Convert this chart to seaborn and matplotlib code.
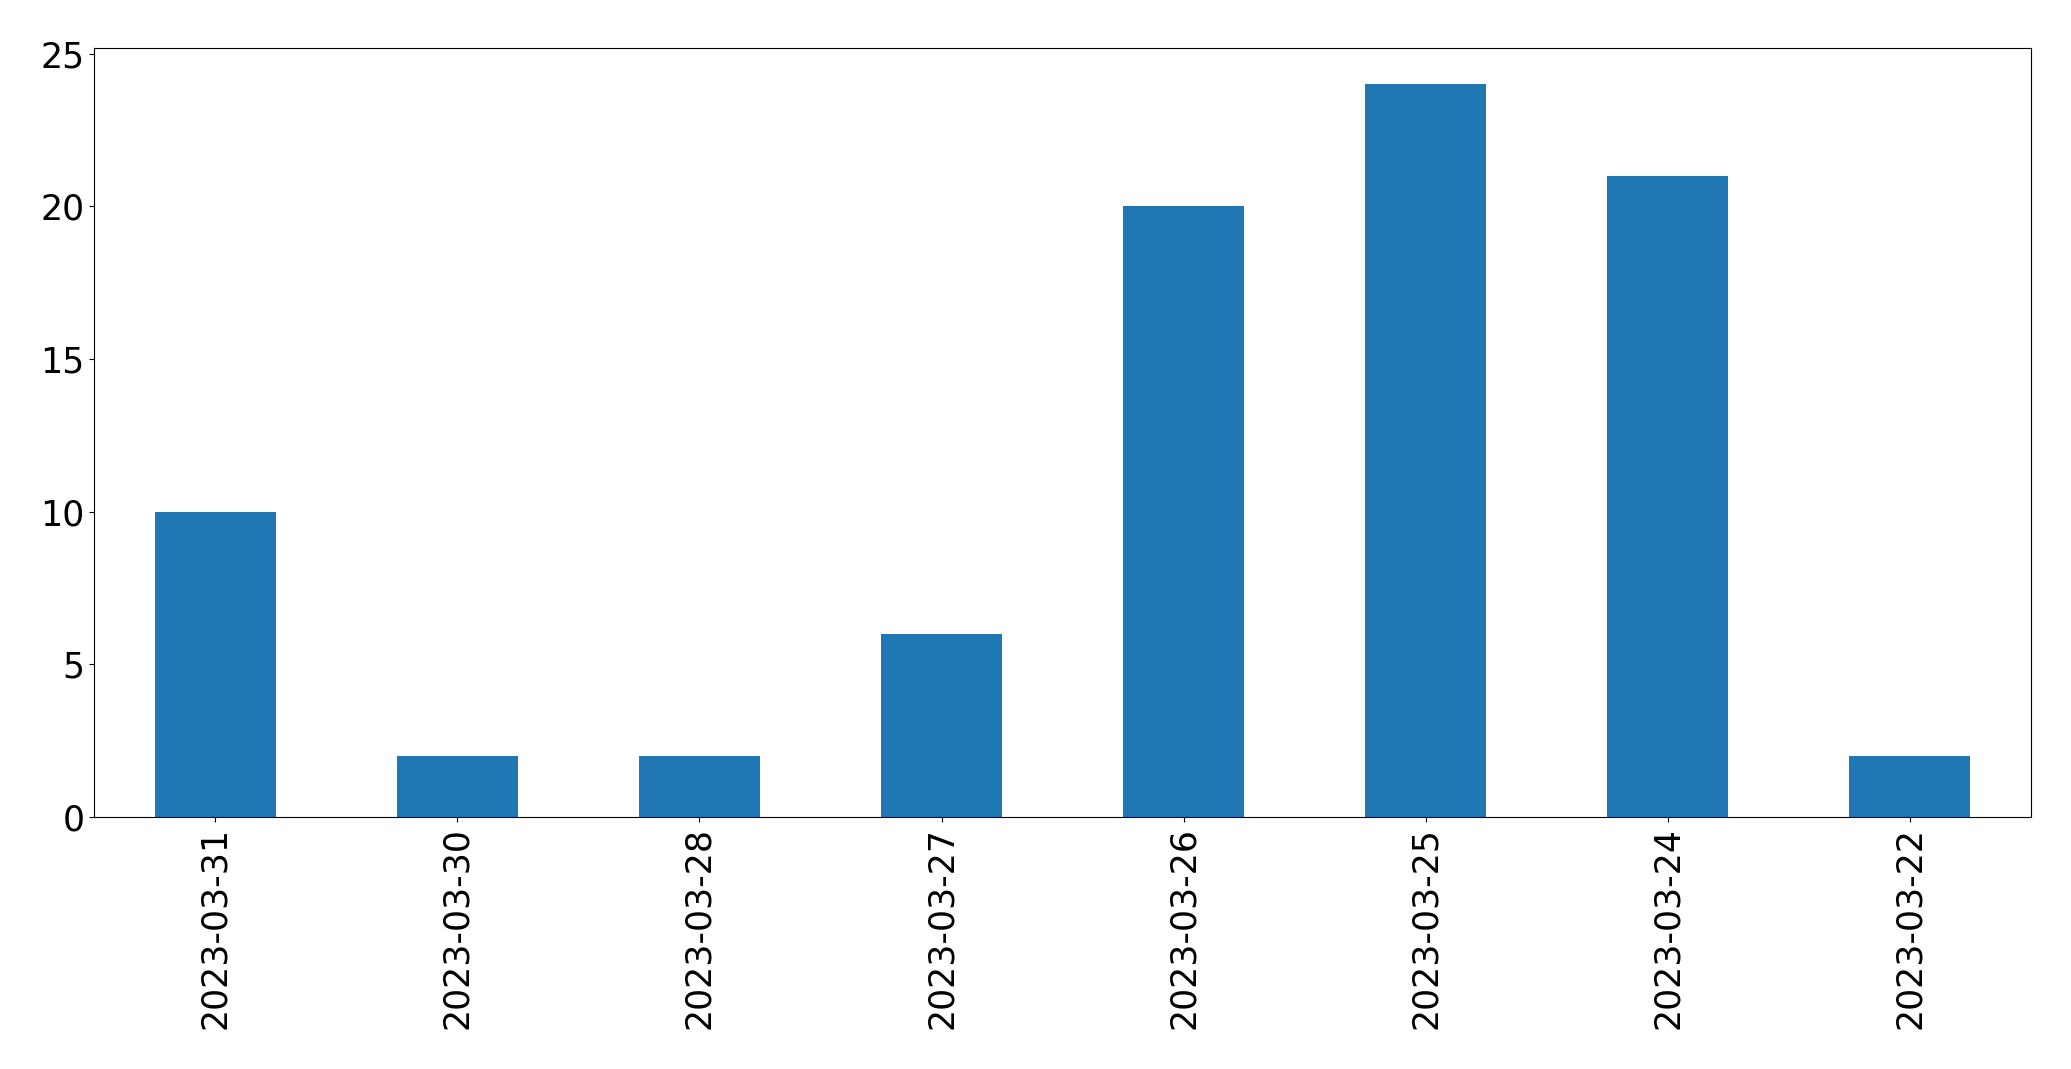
import matplotlib
matplotlib.use("Agg")
import matplotlib.pyplot as plt
import seaborn as sns
import pandas as pd

dates = ["2023-03-31", "2023-03-30", "2023-03-28", "2023-03-27",
         "2023-03-26", "2023-03-25", "2023-03-24", "2023-03-22"]
counts = [10, 2, 2, 6, 20, 24, 21, 2]

df = pd.DataFrame({"date": dates, "count": counts})

fig, ax = plt.subplots(figsize=(20.71, 10.69), dpi=100)
fig.subplots_adjust(left=0.0456, right=0.9805, top=0.9554, bottom=0.2357)

sns.barplot(data=df, x="date", y="count", order=dates, color="#1f77b4",
            saturation=1, width=0.5, ax=ax, errorbar=None)

ax.set_xlim(-0.5, len(dates) - 0.5)
ax.set_ylim(0, max(counts) * 1.05)
ax.set_xlabel("")
ax.set_ylabel("")
ax.tick_params(axis="both", labelsize=25)
plt.setp(ax.get_xticklabels(), rotation=90)
for s in ax.spines.values():
    s.set_visible(True)
    s.set_color("black")

fig.savefig("out.png", dpi=100)
